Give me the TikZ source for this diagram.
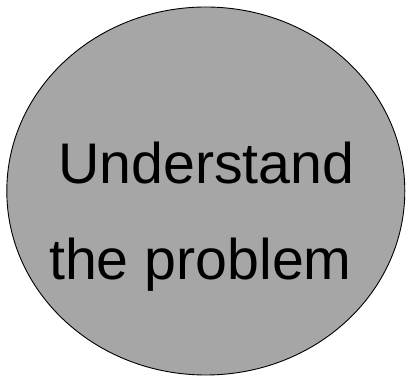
\documentclass[tikz,border=0pt]{standalone}
\usepackage{fontspec}
\setmainfont{Liberation Sans}
\usepackage{xcolor}
\definecolor{bubble}{RGB}{166,166,166}
\usepackage{tikz}
\usetikzlibrary{shapes.geometric}
\tikzset{
  bubble/.style={ellipse,draw=black,fill=bubble,line width=0.9pt,%
    minimum width=398pt,minimum height=368pt,inner sep=0pt},
  label/.style={font=\fontsize{57.3}{60}\selectfont,inner sep=0pt,anchor=base west},
}

\begin{document}
\begin{tikzpicture}[x=1pt,y=1pt]
\useasboundingbox (0,0) rectangle (406,377);
\node[bubble] (step) at (205.8,186) {};
\node[label] (top) at (58,193) {Understand};
\node[label] (bottom) at (49,97.7) {the problem};
\end{tikzpicture}
\end{document}
